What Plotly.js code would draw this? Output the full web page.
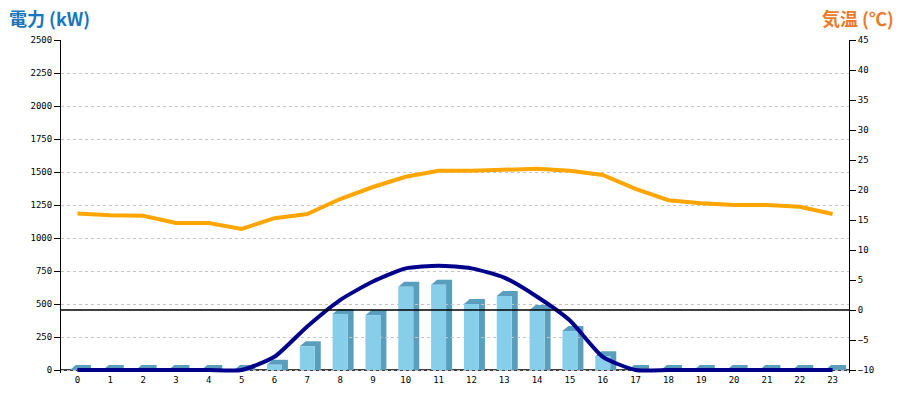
<!DOCTYPE html>
<html>
<head>
<meta charset="utf-8">
<script src="https://cdn.plot.ly/plotly-3.0.1.min.js"></script>
<style>html,body{margin:0;padding:0;background:#fff}#chart{width:900px;height:400px}</style>
</head>
<body>
<div id="chart"></div>
<script>
// ---- data ----
var hours = [0,1,2,3,4,5,6,7,8,9,10,11,12,13,14,15,16,17,18,19,20,21,22,23];
var hourLabels = ["0","1","2","3","4","5","6","7","8","9","10","11","12","13","14","15","16","17","18","19","20","21","22","23"];
var powerBars = [0,0,0,0,0,0,40,180,425,415,630,645,500,560,455,295,105,0,0,0,0,0,0,0];
var powerLine = [0,0,0,0,0,0,100,330,530,670,770,790,770,700,555,375,100,0,0,0,0,0,0,0];
var temperature = [16.1,15.8,15.7,14.5,14.5,13.5,15.3,16.0,18.5,20.5,22.2,23.2,23.2,23.3,23.55,23.2,22.5,20.2,18.3,17.8,17.5,17.5,17.2,16.0];
var powerTicks = [0,250,500,750,1000,1250,1500,1750,2000,2250,2500];
var tempTicks = [-10,-5,0,5,10,15,20,25,30,35,40,45];

// ---- 3D caps / sides for bars (pixel x offsets, data y) ----
var capDepth = 38; // in kW units (~5px)
var shapes = hours.map(function(h, i){
  var v = powerBars[i];
  var t = v + capDepth;
  return {
    type: 'path', layer: 'below',
    xref: 'x', yref: 'y', xsizemode: 'pixel', xanchor: h,
    path: 'M -7.5 ' + v + ' L -1.5 ' + t + ' L 13.5 ' + t + ' L 13.5 0 L 7.5 0 L 7.5 ' + v + ' Z',
    fillcolor: '#5a9ebd', line: {width: 0}
  };
});
// reference line at 0 °C
shapes.push({type:'line', layer:'above', xref:'paper', x0:0, x1:1, yref:'y2', y0:0, y1:0, line:{color:'#000', width:1.3}});
// baseline at 0 kW
shapes.push({type:'line', layer:'below', xref:'paper', x0:0, x1:1, yref:'y', y0:0, y1:0, line:{color:'#000', width:1.5}});

var tickFont = {family: 'DejaVu Sans Mono', size: 9, color: '#000'};

var traces = [
  {type:'bar', x: hours, y: powerBars, width: 0.456, marker:{color:'#87ceeb', line:{width:0}}, yaxis:'y', hoverinfo:'none'},
  {type:'scatter', mode:'lines', x: hours, y: powerLine, line:{color:'#00008b', width:4, shape:'spline', smoothing:0.6}, yaxis:'y'},
  {type:'scatter', mode:'lines', x: hours, y: temperature, line:{color:'#ffa500', width:4}, yaxis:'y2'}
];

var layout = {
  width: 900, height: 400,
  margin: {l:61, r:51, t:40, b:27},
  paper_bgcolor:'#fff', plot_bgcolor:'#fff',
  showlegend:false,
  xaxis: {range:[-0.5,23.5], tickmode:'array', tickvals: hours, ticktext: hourLabels,
          showgrid:false, zeroline:false, showline:false,
          ticks:'', tickfont: tickFont, fixedrange:true},
  yaxis: {range:[-22.7,2500], tickmode:'array', tickvals: powerTicks,
          showgrid:true, gridcolor:'#c4c4c4', griddash:'3px,3px', gridwidth:1,
          zeroline:false, showline:true, linecolor:'#000', linewidth:1,
          ticks:'outside', ticklen:6, tickcolor:'#000', tickfont: tickFont, fixedrange:true},
  yaxis2: {range:[-10.5,45], tickmode:'array', tickvals: tempTicks, ticktext: tempTicks.map(function(t){return t<0 ? '\u2212'+Math.abs(t) : String(t);}),
          overlaying:'y', side:'right', showgrid:false, zeroline:false,
          showline:true, linecolor:'#000', linewidth:1,
          ticks:'outside', ticklen:6, tickcolor:'#000', tickfont: tickFont, fixedrange:true},
  shapes: shapes,
  annotations: [
    {xref:'paper', yref:'paper', x:-0.0685, y:1.0, yshift:22, xanchor:'left', yanchor:'middle', showarrow:false,
     text:'<b>電力 (kW)</b>', font:{family:'Noto Sans CJK JP', size:18, color:'#1a75bb'}},
    {xref:'paper', yref:'paper', x:1.06, y:1.0, yshift:22, xanchor:'right', yanchor:'middle', showarrow:false,
     text:'<b>気温 (℃)</b>', font:{family:'Noto Sans CJK JP', size:18, color:'#ec7a2c'}}
  ]
};

Plotly.newPlot('chart', traces, layout, {displayModeBar:false, staticPlot:true});
</script>
</body>
</html>
